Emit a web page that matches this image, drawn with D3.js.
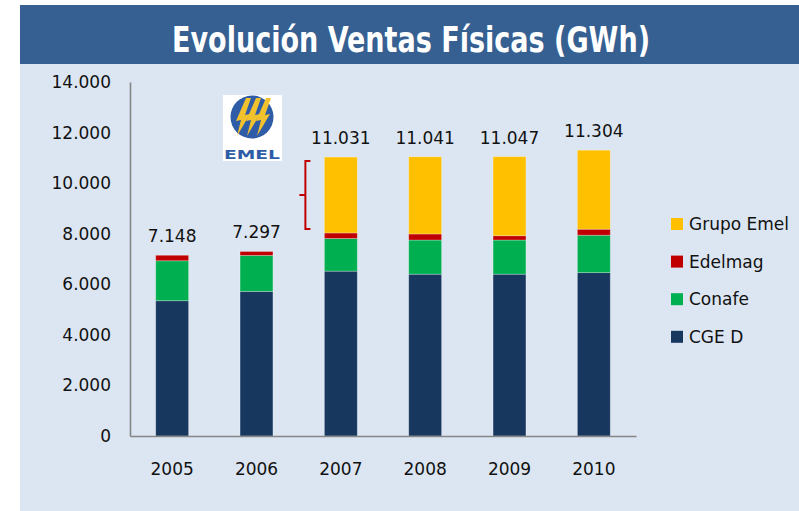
<!DOCTYPE html>
<html>
<head>
<meta charset="utf-8">
<script src="https://cdn.jsdelivr.net/npm/d3@7"></script>
<style>
  body { margin: 0; background: #ffffff; }
  text { font-family: "DejaVu Sans", sans-serif; fill: #111; }
</style>
</head>
<body>
<svg id="chart" width="799" height="511"></svg>
<script>
// data (GWh)
var years = ["2005", "2006", "2007", "2008", "2009", "2010"];
var cgeD = [5350, 5720, 6520, 6400, 6400, 6460];
var conafe = [1580, 1420, 1290, 1350, 1350, 1480];
var edelmag = [218, 157, 220, 240, 170, 240];
var grupoEmel = [0, 0, 3001, 3051, 3127, 3124];
var totals = [7148, 7297, 11031, 11041, 11047, 11304];
var yTicks = [0, 2000, 4000, 6000, 8000, 10000, 12000, 14000];

var seriesNames = ["CGE D", "Conafe", "Edelmag", "Grupo Emel"];
var colors = ["#17375e", "#00b050", "#c00000", "#ffc000"];

var table = years.map(function(y, i) {
  return {year: y, "CGE D": cgeD[i], "Conafe": conafe[i], "Edelmag": edelmag[i], "Grupo Emel": grupoEmel[i]};
});

var fmt = d3.formatLocale({decimal: ",", thousands: ".", grouping: [3], currency: ["", ""]}).format(",d");

var svg = d3.select("#chart");

// background panel + title band
svg.append("rect").attr("x", 20).attr("y", 5).attr("width", 779).attr("height", 506).attr("fill", "#dce6f2");
svg.append("rect").attr("x", 20).attr("y", 5).attr("width", 779).attr("height", 59).attr("fill", "#366092");
svg.append("text")
  .attr("x", 411).attr("y", 52)
  .attr("text-anchor", "middle")
  .attr("textLength", 478).attr("lengthAdjust", "spacingAndGlyphs")
  .style("font-family", "'Liberation Sans Narrow', 'DejaVu Sans Condensed', 'Open Sans', sans-serif")
  .style("font-weight", "bold").style("font-size", "35px").style("fill", "#ffffff")
  .text("Evolución Ventas Físicas (GWh)");

var x = d3.scaleBand().domain(years).range([130, 636]).paddingInner(0.61).paddingOuter(0.305);
var y = d3.scaleLinear().domain([0, 14000]).range([436, 82]);

var stack = d3.stack().keys(seriesNames)(table);

svg.append("g")
  .selectAll("g")
  .data(stack)
  .join("g")
    .attr("fill", (d, i) => colors[i])
  .selectAll("rect")
  .data(d => d.filter(p => p[1] - p[0] > 0))
  .join("rect")
    .attr("x", d => x(d.data.year))
    .attr("y", d => y(d[1]))
    .attr("width", x.bandwidth())
    .attr("height", d => y(d[0]) - y(d[1]))
    .attr("stroke", "rgba(255,255,255,0.35)")
    .attr("stroke-width", 0.8);

// totals above bars
svg.append("g")
  .selectAll("text")
  .data(years)
  .join("text")
    .attr("x", d => x(d) + x.bandwidth() / 2)
    .attr("y", (d, i) => y(totals[i]) - 13)
    .attr("text-anchor", "middle")
    .style("font-size", "17px")
    .text((d, i) => fmt(totals[i]));

// axes
var yAxis = svg.append("g")
  .attr("transform", "translate(130,0)")
  .call(d3.axisLeft(y).tickValues(yTicks).tickSize(0).tickPadding(19).tickFormat(fmt));
yAxis.select(".domain").attr("stroke", "#868686").attr("stroke-width", 1.6);
yAxis.selectAll("text").style("font-size", "17px").style("font-family", "'DejaVu Sans', sans-serif").attr("fill", "#111");

var xAxis = svg.append("g")
  .attr("transform", "translate(0,436)")
  .call(d3.axisBottom(x).tickSize(0).tickPadding(27));
xAxis.select(".domain").attr("stroke", "#868686").attr("stroke-width", 1.6);
xAxis.selectAll("text").style("font-size", "17px").style("font-family", "'DejaVu Sans', sans-serif").attr("fill", "#111");

// bracket beside the 2007 Grupo Emel segment
var bx = x("2007") - 19;
var bTop = y(totals[2]) + 4;
var bBot = y(totals[2] - grupoEmel[2]) - 4;
svg.append("path")
  .attr("d", "M" + (bx + 5) + "," + bTop + "H" + bx + "V" + bBot + "H" + (bx + 5) +
             "M" + bx + "," + ((bTop + bBot) / 2) + "h-6")
  .attr("fill", "none").attr("stroke", "#c00000").attr("stroke-width", 2);

// legend
var legendOrder = [3, 2, 1, 0];
var legend = svg.append("g")
  .selectAll("g")
  .data(legendOrder)
  .join("g")
    .attr("transform", (d, i) => "translate(671," + (224 + i * 37.6) + ")");
legend.append("rect").attr("x", 0).attr("y", -6).attr("width", 12).attr("height", 12).attr("fill", d => colors[d]);
legend.append("text").attr("x", 18).attr("y", 6).style("font-size", "17px").text(d => seriesNames[d]);

// EMEL logo
var logo = svg.append("g").attr("transform", "translate(252,117)");
logo.append("rect").attr("x", -29).attr("y", -22).attr("width", 59).attr("height", 66).attr("fill", "#ffffff");
logo.append("circle").attr("r", 21.5).attr("fill", "#2e5ca6");
var bolt = "M4,-19 L9,-19 L3,-2 L8,-3 L-5,19 L-1,3 L-6,4 Z";
[-10, 0, 10].forEach(function(dx) {
  logo.append("path").attr("d", bolt).attr("transform", "translate(" + dx + ",0)").attr("fill", "#f2c12e");
});
logo.append("text")
  .attr("x", 0).attr("y", 42)
  .attr("text-anchor", "middle")
  .attr("textLength", 56).attr("lengthAdjust", "spacingAndGlyphs")
  .style("font-family", "'DejaVu Sans', sans-serif").style("font-weight", "bold").style("font-size", "12px")
  .style("fill", "#2e5ca6")
  .text("EMEL");
</script>
</body>
</html>
